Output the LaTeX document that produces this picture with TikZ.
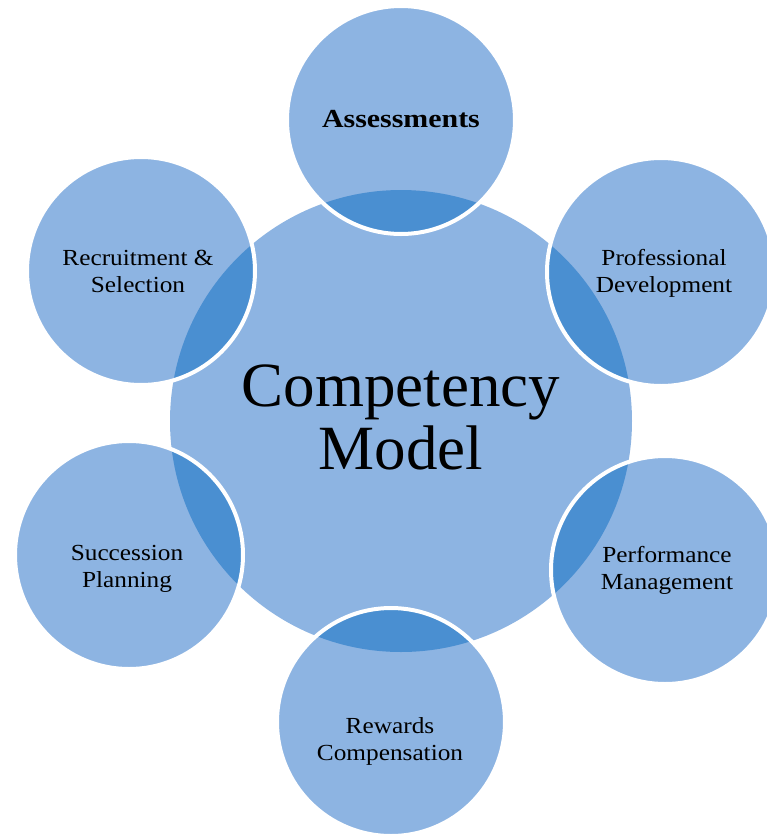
\documentclass[tikz,border=0pt]{standalone}
\usepackage{fontspec}
\setmainfont{Liberation Serif}
\newfontfamily\wideserif[FakeStretch=1.1]{Liberation Serif}
\newfontfamily\widerserif[FakeStretch=1.15]{Liberation Serif}
\definecolor{lightblue}{HTML}{8DB4E2}
\definecolor{darkblue}{HTML}{4A8FD1}
\tikzset{
  hub/.style={circle, fill=lightblue, minimum size=462pt, inner sep=0pt},
  petal/.style={circle, fill=lightblue, minimum size=228pt, inner sep=0pt},
  rim/.style={draw=white, line width=4pt},
  overlap/.style={fill=darkblue},
  petaltext/.style={align=center, inner sep=0pt, font=\wideserif\fontsize{23}{27}\selectfont},
  hubtext/.style={align=center, inner sep=0pt, font=\fontsize{63}{63}\selectfont},
}
\begin{document}
\begin{tikzpicture}[x=1pt,y=-1pt]
\useasboundingbox[fill=white] (0,0) rectangle (767,839);
\node[hub] (hub) at (401,421) {};
\foreach \n/\x/\y in {assess/401/120, prof/661/272, perf/665/570, rew/391/722, succ/129/555, recr/141/271} {
  \node[petal] (\n) at (\x,\y) {};
  \begin{scope}
    \clip (\n.center) circle[radius=114pt];
    \fill[overlap] (hub.center) circle[radius=231pt];
  \end{scope}
  \draw[rim] (\n.center) circle[radius=114pt];
}
\node[hubtext] (hubtxt) at (401,417) {Competency\\Model};
\node[anchor=base, inner sep=0pt, font=\widerserif\bfseries\fontsize{26}{30}\selectfont] (assesstxt) at (401,127) {Assessments};
\node[petaltext] (proftxt) at (664,273) {Professional\\Development};
\node[petaltext] (perftxt) at (667,570) {Performance\\Management};
\node[petaltext] (rewtxt) at (390,741) {Rewards\\Compensation};
\node[petaltext] (succtxt) at (127,569) {Succession\\Planning};
\node[petaltext] (recrtxt) at (138,271) {Recruitment \&\\Selection};
\end{tikzpicture}
\end{document}
